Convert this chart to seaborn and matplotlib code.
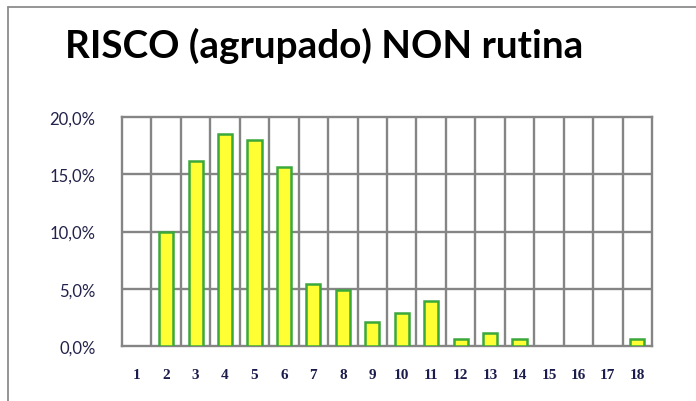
import numpy as np
import pandas as pd
import seaborn as sns
import matplotlib.pyplot as plt
from matplotlib.lines import Line2D
from matplotlib.ticker import FuncFormatter, FixedLocator

# Data
categories = [str(i) for i in range(1, 19)]
values = [0.0, 10.0, 16.2, 18.5, 18.0, 15.6, 5.4, 4.9, 2.1,
          2.9, 3.9, 0.6, 1.1, 0.6, 0.0, 0.0, 0.0, 0.6]
y_ticks = [0, 5, 10, 15, 20]
title = "RISCO (agrupado) NON rutina"

df = pd.DataFrame({'classe': categories, 'perc': [v / 100 for v in values]})

sns.set_style('white')
plt.rcParams['font.family'] = ['Lato', 'DejaVu Sans']

fig = plt.figure(figsize=(6.96, 4.02), dpi=100)
ax = fig.add_axes([122 / 696, 55 / 402, 530 / 696, 229 / 402])

grid_col = '#858585'
sns.barplot(data=df, x='classe', y='perc', color='#ffff33',
            edgecolor='#3aa83a', linewidth=1.8, width=0.48,
            saturation=1, ax=ax, zorder=3)
# empty classes show no mark at all
for p in ax.patches:
    if p.get_height() == 0:
        p.set_visible(False)

ax.set_xlim(-0.5, 17.5)
ax.set_ylim(0, 0.2)
ax.set_yticks([t / 100 for t in y_ticks])
ax.yaxis.set_major_formatter(
    FuncFormatter(lambda v, p: f"{v * 100:.1f}%".replace('.', ',')))

# vertical grid between categories, horizontal at the ticks
for xb in np.arange(0.5, 17.5, 1):
    ax.axvline(xb, color=grid_col, lw=1.7, zorder=1)
for t in y_ticks[1:-1]:
    ax.axhline(t / 100, color=grid_col, lw=1.7, zorder=1)
for s in ax.spines.values():
    s.set_color(grid_col)
    s.set_linewidth(1.7)

ax.xaxis.set_minor_locator(FixedLocator(np.arange(-0.5, 18, 1)))
ax.tick_params(axis='x', which='major', length=0, pad=16,
               labelsize=11, labelcolor='#1c1c4c')
ax.tick_params(axis='x', which='minor', length=6, width=1.4,
               color=grid_col, direction='out')
ax.tick_params(axis='y', length=7, width=1.4, color=grid_col,
               direction='out', labelsize=12, labelcolor='#22224a', pad=12)
for lab in ax.get_xticklabels():
    lab.set_family(['Liberation Serif', 'DejaVu Serif'])
    lab.set_fontweight('bold')
ax.set_xlabel('')
ax.set_ylabel('')

fig.text(65 / 696, 1 - 58 / 402, title, fontsize=27.8, fontweight='bold',
         color='#000000', va='baseline', ha='left')

# chart area border (left and top edges visible)
fig.add_artist(Line2D([8 / 696, 8 / 696], [0, 1 - 8 / 402],
                      transform=fig.transFigure, color='#8c8c8c', lw=1.3))
fig.add_artist(Line2D([8 / 696, 1], [1 - 8 / 402, 1 - 8 / 402],
                      transform=fig.transFigure, color='#8c8c8c', lw=1.3))

fig.savefig('out.png', dpi=100)
